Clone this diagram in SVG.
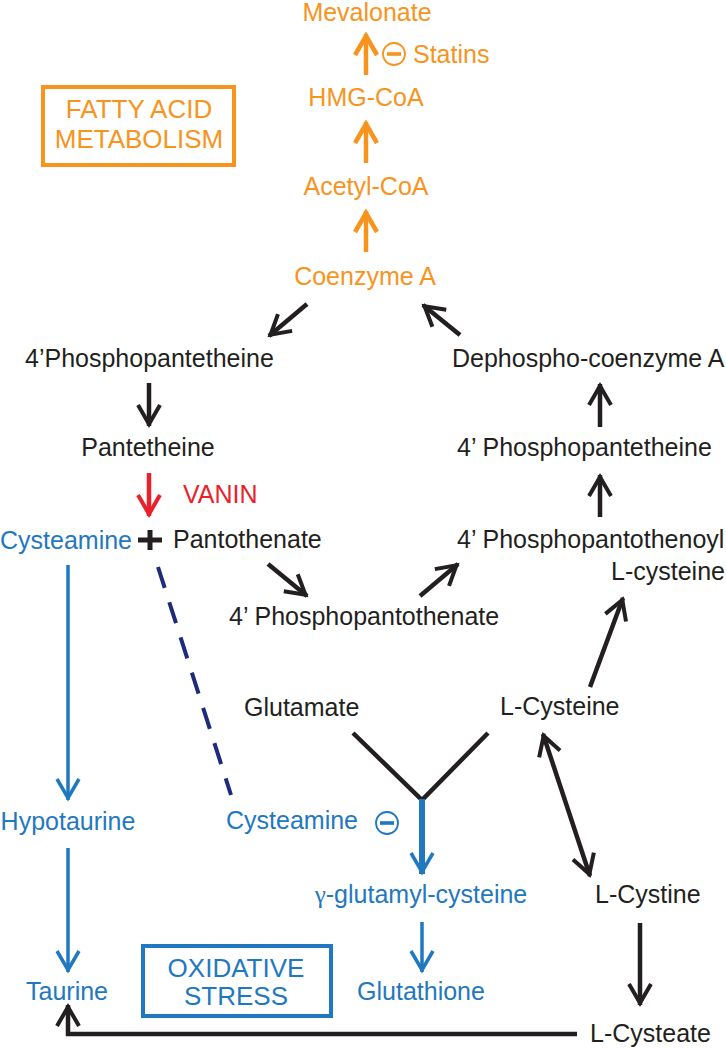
<svg xmlns="http://www.w3.org/2000/svg" width="726" height="1049" viewBox="0 0 726 1049">
<style>
text{font-family:"Liberation Sans",Arial,sans-serif;font-size:25px}
.big{font-size:26px}
.o{fill:#F7941D}.b{fill:#1F78C0}.k{fill:#231F20}.r{fill:#E8212B}
.lo{stroke:#F7941D;stroke-width:4.5;fill:none}
.lk{stroke:#231F20;stroke-width:4.5;fill:none}
.lb{stroke:#1F78C0;stroke-width:3.5;fill:none}
.lr{stroke:#E8212B;stroke-width:4.5;fill:none}
.c{text-anchor:middle}
</style>
<defs>
<marker id="ao" markerUnits="userSpaceOnUse" markerWidth="40" markerHeight="40" refX="2" refY="0" viewBox="-30 -20 40 40" orient="auto"><path d="M-19 -11 L0 0 L-19 11" fill="none" stroke="#F7941D" stroke-width="4.5"/></marker>
<marker id="ak" markerUnits="userSpaceOnUse" markerWidth="40" markerHeight="40" refX="2" refY="0" viewBox="-30 -20 40 40" orient="auto-start-reverse"><path d="M-19 -11 L0 0 L-19 11" fill="none" stroke="#231F20" stroke-width="4"/></marker>
<marker id="ab" markerUnits="userSpaceOnUse" markerWidth="40" markerHeight="40" refX="2" refY="0" viewBox="-30 -20 40 40" orient="auto"><path d="M-19 -11 L0 0 L-19 11" fill="none" stroke="#1F78C0" stroke-width="3.5"/></marker>
<marker id="ar" markerUnits="userSpaceOnUse" markerWidth="40" markerHeight="40" refX="2" refY="0" viewBox="-30 -20 40 40" orient="auto"><path d="M-19 -11 L0 0 L-19 11" fill="none" stroke="#E8212B" stroke-width="4"/></marker>
</defs>
<rect width="726" height="1049" fill="#fff"/>

<g id="connectors">
<line class="lo" x1="366" y1="75" x2="366" y2="34" marker-end="url(#ao)"/>
<line class="lo" x1="366" y1="163" x2="366" y2="122" marker-end="url(#ao)"/>
<line class="lo" x1="366" y1="252" x2="366" y2="211" marker-end="url(#ao)"/>
<line class="lk" x1="307" y1="304" x2="269" y2="336" marker-end="url(#ak)"/>
<line class="lk" x1="460" y1="335" x2="423" y2="305" marker-end="url(#ak)"/>
<line class="lk" x1="149" y1="383" x2="149" y2="426" marker-end="url(#ak)"/>
<line class="lr" x1="149" y1="473" x2="149" y2="516" marker-end="url(#ar)"/>
<line class="lk" x1="268" y1="564" x2="307" y2="596" marker-end="url(#ak)"/>
<line class="lk" x1="420" y1="596" x2="458" y2="564" marker-end="url(#ak)"/>
<line class="lk" x1="600" y1="517" x2="600" y2="475" marker-end="url(#ak)"/>
<line class="lk" x1="600" y1="427" x2="600" y2="384" marker-end="url(#ak)"/>
<line class="lk" x1="590" y1="687" x2="623" y2="598" marker-end="url(#ak)"/>
<line class="lk" x1="543" y1="734" x2="590" y2="876" marker-start="url(#ak)" marker-end="url(#ak)"/>
<line class="lk" x1="640" y1="923" x2="640" y2="1005" marker-end="url(#ak)"/>
<path class="lk" d="M577 1034 H68 V1005" marker-end="url(#ak)"/>
<path class="lk" d="M353 733 L422 800 L488 733" stroke-linejoin="miter"/>
<line x1="422" y1="799" x2="422" y2="874" stroke="#1F78C0" stroke-width="6" marker-end="url(#ab)"/>
<line class="lb" x1="422" y1="922" x2="422" y2="972" marker-end="url(#ab)"/>
<line class="lb" x1="68" y1="565" x2="68" y2="800" marker-end="url(#ab)"/>
<line class="lb" x1="68" y1="848" x2="68" y2="972" marker-end="url(#ab)"/>
<line x1="158" y1="567" x2="231" y2="795" stroke="#1E2B7A" stroke-width="4" stroke-dasharray="22 15"/>
</g>

<g id="mevalonate"><text class="o c" x="367" y="21">Mevalonate</text></g>
<g id="statins">
<circle cx="394" cy="54" r="11" fill="none" stroke="#F7941D" stroke-width="1.8"/>
<rect x="387" y="52.2" width="14" height="3.6" fill="#F7941D"/>
<text class="o" x="413" y="63">Statins</text>
</g>
<g id="hmg-coa"><text class="o c" x="366" y="106">HMG-CoA</text></g>
<g id="acetyl-coa"><text class="o c" x="366" y="195">Acetyl-CoA</text></g>
<g id="coenzyme-a"><text class="o c" x="365" y="285">Coenzyme A</text></g>
<g id="fatty-acid-box">
<rect x="43" y="87" width="191" height="78" fill="none" stroke="#F7941D" stroke-width="4"/>
<text class="o c big" x="139" y="118">FATTY ACID</text>
<text class="o c big" x="139" y="148">METABOLISM</text>
</g>
<g id="phosphopantetheine-left"><text class="k" x="25" y="367">4’Phosphopantetheine</text></g>
<g id="pantetheine"><text class="k c" x="148" y="456">Pantetheine</text></g>
<g id="vanin"><text class="r" x="183" y="503">VANIN</text></g>
<g id="cysteamine-left"><text class="b" x="0" y="549">Cysteamine</text></g>
<g id="plus"><rect x="138" y="537.5" width="24" height="5" class="k"/><rect x="147.5" y="530" width="5" height="20" class="k"/></g>
<g id="pantothenate"><text class="k" x="173" y="548">Pantothenate</text></g>
<g id="phosphopantothenate"><text class="k" x="229" y="625">4’ Phosphopantothenate</text></g>
<g id="phosphopantothenoyl"><text class="k" x="457" y="548">4’ Phosphopantothenoyl</text><text class="k" x="611" y="580">L-cysteine</text></g>
<g id="dephospho-coa"><text class="k" x="452" y="367">Dephospho-coenzyme A</text></g>
<g id="phosphopantetheine-right"><text class="k" x="457" y="456">4’ Phosphopantetheine</text></g>
<g id="glutamate"><text class="k" x="244" y="716">Glutamate</text></g>
<g id="l-cysteine"><text class="k" x="500" y="715">L-Cysteine</text></g>
<g id="cysteamine-inhibitor">
<text class="b" x="226" y="829">Cysteamine</text>
<circle cx="387" cy="823" r="11" fill="none" stroke="#1F78C0" stroke-width="1.8"/>
<rect x="380" y="821.2" width="14" height="3.6" fill="#1F78C0"/>
</g>
<g id="hypotaurine"><text class="b c" x="68" y="830">Hypotaurine</text></g>
<g id="gamma-glutamyl-cysteine"><text class="b c" x="421" y="903"><tspan font-family="'Liberation Serif',serif">γ</tspan>-glutamyl-cysteine</text></g>
<g id="l-cystine"><text class="k" x="595" y="903">L-Cystine</text></g>
<g id="taurine"><text class="b c" x="67" y="1000">Taurine</text></g>
<g id="oxidative-stress-box">
<rect x="143" y="946" width="188" height="70" fill="none" stroke="#1F78C0" stroke-width="4"/>
<text class="b c big" x="236" y="977">OXIDATIVE</text>
<text class="b c big" x="236" y="1005">STRESS</text>
</g>
<g id="glutathione"><text class="b c" x="421" y="1000">Glutathione</text></g>
<g id="l-cysteate"><text class="k" x="590" y="1042">L-Cysteate</text></g>
</svg>
